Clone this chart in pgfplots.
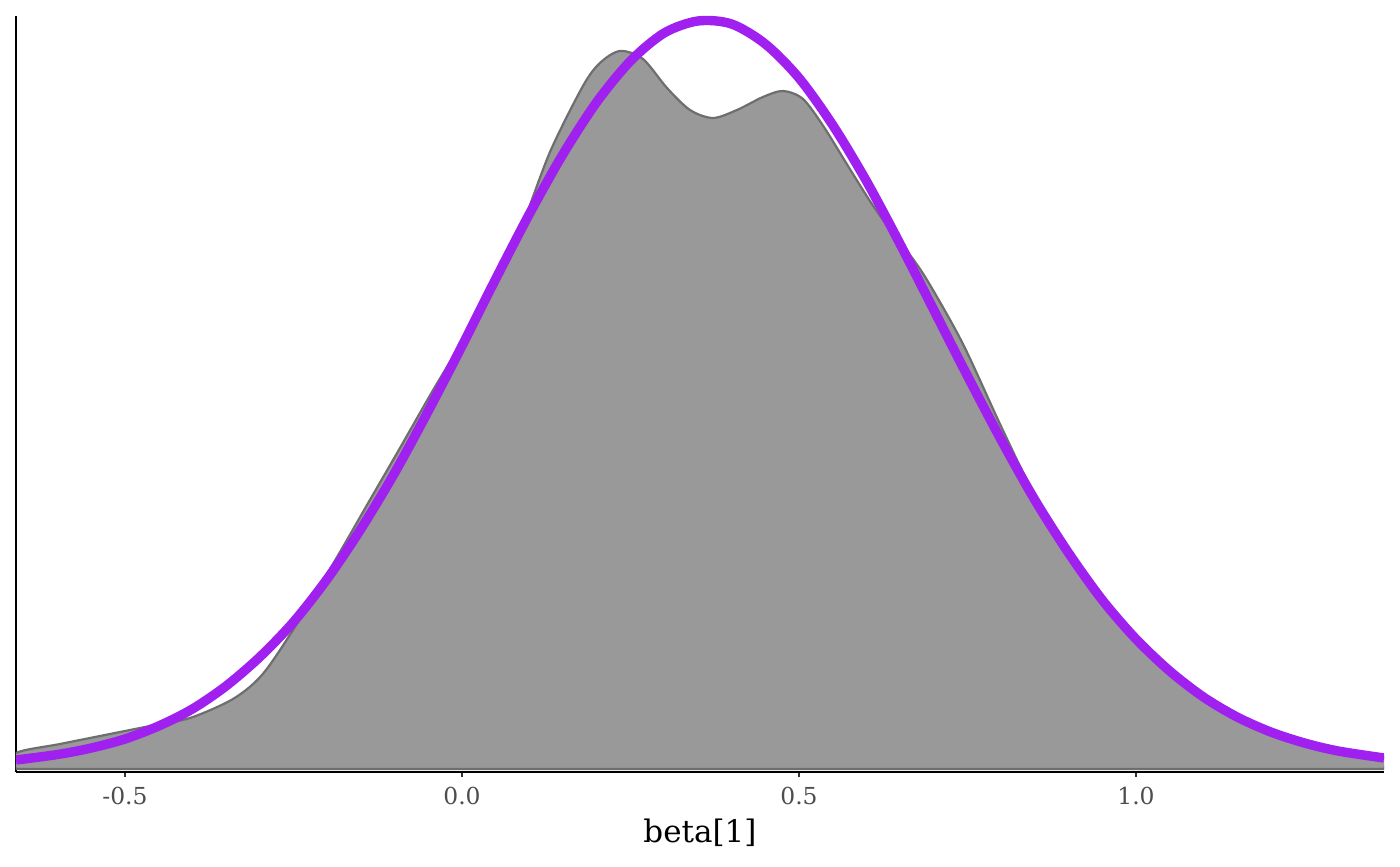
\documentclass[border=0pt]{standalone}
\usepackage{pgfplots}
\pgfplotsset{compat=1.18}
\usepackage{fontspec}
\setmainfont{DejaVu Serif}
\definecolor{densfill}{HTML}{999999}
\definecolor{densline}{HTML}{6E6E6E}
\definecolor{rpurple}{HTML}{A020F0}
\definecolor{ticklab}{HTML}{4D4D4D}
\definecolor{tickcol}{HTML}{333333}
\begin{document}
\begin{tikzpicture}
\begin{axis}[
  scale only axis,
  width=684pt, height=378pt,
  xmin=-0.6617, xmax=1.368,
  ymin=-3, ymax=753,
  axis x line*=bottom, axis y line*=left,
  axis line style={black, line width=1pt},
  xtick={-0.5,0,0.5,1},
  xticklabels={-0.5,0.0,0.5,1.0},
  ytick=\empty,
  tick align=outside,
  major tick length=2.5pt,
  tick style={tickcol, line width=0.9pt},
  /pgf/number format/assume math mode=true,
  xticklabel style={font=\fontsize{11.7}{14}\selectfont, text=ticklab, anchor=base, yshift=-13.5pt},
  xlabel={beta[1]},
  xlabel style={font=\fontsize{15.5}{18}\selectfont, anchor=base, at={(axis description cs:0.5,0)}, yshift=-35pt},
]
% density of draws
\addplot[fill=densfill, draw=densline, line width=1.1pt, smooth] coordinates {
(-0.6617,0) (-0.6617,16) (-0.5964,25) (-0.5371,33) (-0.4629,43) (-0.4036,51)
(-0.3398,70) (-0.2968,94) (-0.2507,139) (-0.1914,205) (-0.1409,264)
(-0.0920,321) (-0.0445,377) (0.0015,429)
(0.0415,478) (0.0860,538) (0.1306,617) (0.1795,683)
(0.2047,706) (0.2344,718) (0.2685,710) (0.3042,681) (0.3383,659) (0.3724,651)
(0.4080,659) (0.4466,672) (0.4763,678) (0.5059,670) (0.5360,643) (0.5700,606)
(0.6053,568) (0.6395,535) (0.6691,510) (0.6944,484) (0.7433,425) (0.7982,345)
(0.8427,283) (0.8917,225) (0.9659,158) (1.0401,101) (1.1142,63) (1.2136,33)
(1.3131,17) (1.368,12) (1.368,0)
} \closedcycle;
% fitted curve
\addplot[rpurple, line width=4.7pt, smooth] coordinates {
(-0.6617,9) (-0.60,14.5) (-0.55,21) (-0.50,30) (-0.45,43) (-0.40,60) (-0.35,83)
(-0.30,112) (-0.25,147) (-0.20,190) (-0.15,240) (-0.10,296) (-0.05,358) (0.00,423)
(0.05,490) (0.10,555) (0.15,615) (0.20,667) (0.25,708) (0.30,736) (0.35,748)
(0.40,745) (0.45,725) (0.50,691) (0.55,644) (0.60,588) (0.65,525) (0.70,459)
(0.75,393) (0.80,329) (0.85,269) (0.90,216) (0.95,169) (1.00,130) (1.05,98)
(1.10,72) (1.15,52) (1.20,37) (1.25,26) (1.30,18) (1.368,11)
};
\end{axis}
\pgfresetboundingbox
\path (current axis.south west) ++(-8pt,-47pt) rectangle ([shift={(8pt,8pt)}]current axis.north east);
\end{tikzpicture}
\end{document}
